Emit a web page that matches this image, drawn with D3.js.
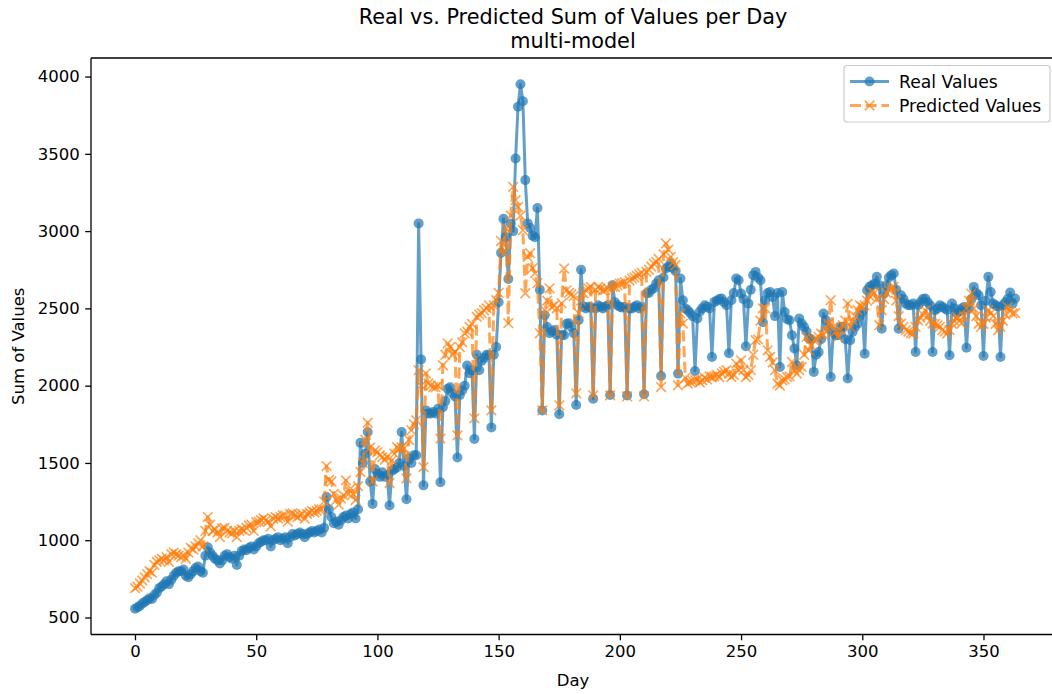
<!DOCTYPE html>
<html>
<head>
<meta charset="utf-8">
<script src="https://cdn.jsdelivr.net/npm/d3@7"></script>
<style>
  body { margin: 0; background: #fff; }
  svg { display: block; font-family: "DejaVu Sans", sans-serif; }
</style>
</head>
<body>
<svg id="chart" width="1052" height="694"></svg>
<script>
// Daily totals, one row per week (day 0 .. day 363)
const realValues = [
  557, 565, 575, 590, 600, 612, 625,
  620, 645, 660, 690, 700, 715, 735,
  715, 745, 770, 790, 800, 800, 810,
  770, 760, 780, 800, 820, 830, 800,
  790, 900, 955, 920, 900, 880, 870,
  850, 870, 900, 910, 890, 880, 900,
  840, 900, 930, 940, 935, 950, 960,
  940, 960, 980, 990, 1000, 1000, 1010,
  960, 1000, 1010, 1020, 1000, 1010, 1020,
  980, 1020, 1040, 1030, 1040, 1050, 1040,
  1020, 1040, 1050, 1060, 1050, 1060, 1070,
  1050, 1080, 1280, 1200, 1150, 1110, 1120,
  1100, 1130, 1150, 1160, 1140, 1170, 1180,
  1140, 1200, 1630, 1500, 1560, 1700, 1380,
  1235, 1460, 1430, 1410, 1440, 1410, 1420,
  1225, 1450, 1460, 1470, 1500, 1700, 1480,
  1265, 1530, 1500, 1550, 1550, 3050, 2170,
  1355, 1840, 1820, 1820, 1830, 1820, 1850,
  1375, 1860, 1900, 1980, 1990, 1950, 1930,
  1535, 1940, 1970, 2000, 2130, 2080, 2100,
  1655, 2200, 2100, 2160, 2180, 2200, 2200,
  1730, 2200, 2250, 2540, 2860, 3080, 2960,
  2690, 3050, 3000, 3470, 3805, 3950, 3840,
  3330, 3050, 3020, 2970, 2960, 3150, 2620,
  1840, 2455, 2380, 2340, 2350, 2360, 2330,
  1815, 2330, 2326, 2400, 2404, 2380, 2340,
  1875, 2423, 2750, 2510, 2500, 2510, 2505,
  1916, 2500, 2520, 2510, 2500, 2510, 2520,
  1940, 2650, 2540, 2520, 2510, 2505, 2509,
  1937, 2500, 2499, 2510, 2520, 2500, 2510,
  1944, 2598, 2600, 2620, 2630, 2660, 2682,
  2062, 2700, 2758, 2770, 2790, 2760, 2740,
  2078, 2693, 2553, 2500, 2488, 2470, 2450,
  2095, 2434, 2480, 2500, 2520, 2510, 2500,
  2186, 2542, 2550, 2560, 2564, 2540, 2520,
  2210, 2553, 2600, 2693, 2682, 2596, 2560,
  2255, 2531, 2620, 2715, 2736, 2700, 2682,
  2410, 2553, 2600, 2606, 2574, 2450, 2600,
  2121, 2606, 2477, 2430, 2423, 2326, 2240,
  2130, 2434, 2402, 2380, 2350, 2305, 2300,
  2089, 2200, 2218, 2300, 2467, 2423, 2380,
  2056, 2347, 2326, 2326, 2380, 2380, 2300,
  2046, 2294, 2347, 2380, 2400, 2450, 2480,
  2207, 2617, 2640, 2650, 2660, 2704, 2650,
  2369, 2596, 2650, 2700, 2715, 2726, 2620,
  2369, 2585, 2560, 2531, 2520, 2520, 2531,
  2218, 2520, 2540, 2560, 2564, 2540, 2520,
  2218, 2488, 2500, 2520, 2510, 2500, 2490,
  2197, 2531, 2500, 2467, 2480, 2500, 2509,
  2246, 2500, 2560, 2639, 2600, 2585, 2520,
  2192, 2550, 2704, 2606, 2531, 2520, 2510,
  2186, 2520, 2540, 2560, 2603, 2531, 2564
];

const predictedValues = [
  690, 700, 720, 740, 760, 780, 800,
  790, 840, 860, 870, 880, 870, 890,
  860, 910, 920, 910, 900, 890, 900,
  880, 920, 950, 940, 960, 980, 1000,
  960, 1060, 1150, 1100, 1060, 1070, 1050,
  1020, 1076, 1080, 1060, 1050, 1044, 1060,
  1020, 1060, 1070, 1063, 1080, 1096, 1100,
  1060, 1117, 1120, 1130, 1141, 1130, 1120,
  1090, 1140, 1150, 1140, 1150, 1160, 1160,
  1120, 1170, 1173, 1160, 1150, 1160, 1170,
  1140, 1170, 1180, 1190, 1180, 1190, 1200,
  1200, 1250, 1480, 1390, 1380, 1300, 1260,
  1230, 1270, 1290, 1387, 1300, 1335, 1300,
  1260, 1350, 1441, 1500, 1650, 1760, 1600,
  1380, 1581, 1570, 1550, 1538, 1520, 1540,
  1370, 1517, 1560, 1603, 1590, 1600, 1594,
  1400, 1650, 1711, 1750, 1776, 2100, 2000,
  1473, 2080, 2015, 2000, 1991, 1990, 2000,
  1657, 2132, 2200, 2274, 2250, 2200, 2220,
  1678, 2250, 2280, 2339, 2350, 2380, 2400,
  1789, 2445, 2460, 2470, 2488, 2500, 2520,
  1840, 2520, 2553, 2600, 2936, 2857, 3019,
  2404, 3100, 3286, 3200, 3157, 3100, 3006,
  2598, 2833, 2857, 2760, 2727, 2663, 2339,
  1840, 2488, 2550, 2630, 2509, 2520, 2500,
  1873, 2533, 2758, 2617, 2600, 2590, 2580,
  1950, 2468, 2550, 2598, 2620, 2630, 2639,
  1937, 2620, 2639, 2630, 2617, 2620, 2630,
  1937, 2639, 2640, 2650, 2660, 2663, 2670,
  1930, 2680, 2693, 2700, 2710, 2720, 2730,
  1930, 2736, 2750, 2770, 2790, 2800, 2820,
  1991, 2850, 2920, 2880, 2833, 2800, 2780,
  2002, 2467, 2402, 2050, 2013, 2024, 2030,
  2035, 2040, 2020, 2035, 2050, 2040, 2060,
  2056, 2060, 2070, 2056, 2080, 2090, 2100,
  2078, 2056, 2070, 2143, 2100, 2164, 2100,
  2056, 2070, 2100, 2200, 2294, 2300, 2420,
  2500, 2500, 2229, 2186, 2150, 2100, 2013,
  2000, 2035, 2040, 2056, 2060, 2153, 2100,
  2078, 2100, 2121, 2200, 2315, 2229, 2260,
  2294, 2300, 2315, 2337, 2330, 2350, 2400,
  2553, 2380, 2350, 2315, 2360, 2391, 2420,
  2531, 2380, 2423, 2450, 2488, 2520, 2510,
  2520, 2550, 2580, 2606, 2600, 2560, 2391,
  2488, 2560, 2600, 2620, 2630, 2639, 2550,
  2450, 2402, 2380, 2360, 2350, 2340, 2337,
  2380, 2423, 2440, 2460, 2488, 2450, 2420,
  2402, 2400, 2390, 2380, 2360, 2350, 2337,
  2360, 2400, 2420, 2445, 2420, 2402, 2450,
  2500, 2550, 2596, 2500, 2450, 2400, 2380,
  2400, 2440, 2488, 2470, 2450, 2400, 2358,
  2380, 2420, 2460, 2509, 2480, 2467, 2470
];

const xTickValues = [0, 50, 100, 150, 200, 250, 300, 350];
const yTickValues = [500, 1000, 1500, 2000, 2500, 3000, 3500, 4000];
const seriesLabels = ["Real Values", "Predicted Values"];
const titleLines = ["Real vs. Predicted Sum of Values per Day", "multi-model"];
const xLabel = "Day";
const yLabel = "Sum of Values";

const BLUE = "#1f77b4", ORANGE = "#ff7f0e";
const svg = d3.select("#chart");

// plot frame
const L = 91, R = 1059, T = 58, B = 634.5;
const n = realValues.length;
const xPad = (n - 1) * 0.05;
const x = d3.scaleLinear().domain([-xPad, n - 1 + xPad]).range([L, R]);
const y = d3.scaleLinear().domain([390, 4120]).range([B, T]);

svg.append("defs").append("clipPath").attr("id", "plotClip")
  .append("rect").attr("x", L).attr("y", T).attr("width", R - L).attr("height", B - T);

const plot = svg.append("g").attr("clip-path", "url(#plotClip)");
const line = d3.line().x((d, i) => x(i)).y(d => y(d));
const LW = 3.0, DASH = "11,4.7", MR = 5.0, XM = 4.8, XW = 1.67;

// Real values: solid line with circles
plot.append("path").datum(realValues)
  .attr("d", line).attr("fill", "none")
  .attr("stroke", BLUE).attr("stroke-width", LW).attr("stroke-opacity", 0.7)
  .attr("stroke-linejoin", "round");
plot.append("g").selectAll("circle").data(realValues).join("circle")
  .attr("cx", (d, i) => x(i)).attr("cy", d => y(d)).attr("r", MR)
  .attr("fill", BLUE).attr("fill-opacity", 0.7);

// Predicted values: dashed line with x markers
plot.append("path").datum(predictedValues)
  .attr("d", line).attr("fill", "none")
  .attr("stroke", ORANGE).attr("stroke-width", LW).attr("stroke-opacity", 0.7)
  .attr("stroke-dasharray", DASH).attr("stroke-linejoin", "round");
const xPath = `M${-XM},${-XM}L${XM},${XM}M${-XM},${XM}L${XM},${-XM}`;
plot.append("g").selectAll("path").data(predictedValues).join("path")
  .attr("transform", (d, i) => `translate(${x(i)},${y(d)})`)
  .attr("d", xPath)
  .attr("fill", "none").attr("stroke", ORANGE).attr("stroke-width", XW)
  .attr("stroke-opacity", 0.7);

// axes
const fs = 16.5;
const xAxis = svg.append("g").attr("transform", `translate(0,${B})`)
  .call(d3.axisBottom(x).tickValues(xTickValues).tickFormat(d3.format("d"))
    .tickSizeInner(5.8).tickSizeOuter(0).tickPadding(5.2));
const yAxis = svg.append("g").attr("transform", `translate(${L},0)`)
  .call(d3.axisLeft(y).tickValues(yTickValues).tickFormat(d3.format("d"))
    .tickSizeInner(5.8).tickSizeOuter(0).tickPadding(5.4));
[xAxis, yAxis].forEach(a => {
  a.select(".domain").remove();
  a.selectAll(".tick line").attr("stroke", "#000").attr("stroke-width", 1.3);
  a.selectAll(".tick text").attr("fill", "#000")
    .style("font-family", "'DejaVu Sans', sans-serif").style("font-size", fs + "px");
});

// spines
const spine = svg.append("g").attr("stroke", "#000").attr("stroke-width", 1.3).attr("fill", "none");
spine.append("line").attr("x1", L).attr("x2", L).attr("y1", T).attr("y2", B);
spine.append("line").attr("x1", L).attr("x2", R).attr("y1", B).attr("y2", B);
spine.append("line").attr("x1", L).attr("x2", R).attr("y1", T).attr("y2", T);
spine.append("line").attr("x1", R).attr("x2", R).attr("y1", T).attr("y2", B);

// titles and labels
const cx = (L + R) / 2 - 2;
svg.append("text").attr("x", cx).attr("y", 24).attr("text-anchor", "middle")
  .style("font-size", "20.8px").text(titleLines[0]);
svg.append("text").attr("x", cx).attr("y", 48).attr("text-anchor", "middle")
  .style("font-size", "20.8px").text(titleLines[1]);
svg.append("text").attr("x", cx).attr("y", 686).attr("text-anchor", "middle")
  .style("font-size", fs + "px").text(xLabel);
svg.append("text").attr("transform", `translate(24,${(T + B) / 2}) rotate(-90)`)
  .attr("text-anchor", "middle").style("font-size", fs + "px").text(yLabel);

// legend
const lg = svg.append("g");
lg.append("rect").attr("x", 844).attr("y", 65.5).attr("width", 206).attr("height", 56.5)
  .attr("rx", 3).attr("fill", "#fff").attr("fill-opacity", 0.8)
  .attr("stroke", "#cccccc").attr("stroke-width", 1.2);
const rows = [81.5, 105.5];
lg.append("line").attr("x1", 850).attr("x2", 889).attr("y1", rows[0]).attr("y2", rows[0])
  .attr("stroke", BLUE).attr("stroke-width", LW).attr("stroke-opacity", 0.7);
lg.append("circle").attr("cx", 869.5).attr("cy", rows[0]).attr("r", MR)
  .attr("fill", BLUE).attr("fill-opacity", 0.7);
lg.append("line").attr("x1", 850).attr("x2", 889).attr("y1", rows[1]).attr("y2", rows[1])
  .attr("stroke", ORANGE).attr("stroke-width", LW).attr("stroke-opacity", 0.7)
  .attr("stroke-dasharray", DASH);
lg.append("path").attr("transform", `translate(869.5,${rows[1]})`)
  .attr("d", xPath)
  .attr("fill", "none").attr("stroke", ORANGE).attr("stroke-width", XW).attr("stroke-opacity", 0.7);
seriesLabels.forEach((s, i) => {
  lg.append("text").attr("x", 899).attr("y", rows[i]).attr("dy", "0.36em")
    .style("font-size", "17.2px").text(s);
});
</script>
</body>
</html>
